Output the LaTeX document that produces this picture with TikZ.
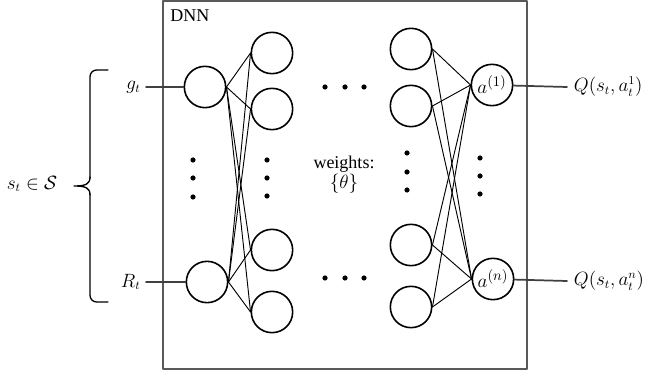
\documentclass[tikz,border=0pt]{standalone}
\usepackage{amssymb,amsmath}
\usepackage{fontspec}
\setmainfont{Liberation Serif}
\usepackage{tikz}

\begin{document}
\begin{tikzpicture}[x=0.75pt,y=-0.75pt, line cap=round,line join=round,
  neuron/.style={draw,circle,line width=1.2pt,minimum size=31pt,inner sep=0pt},
  wire/.style={line width=0.7pt},
  iowire/.style={line width=1.3pt,color=black!75},
  ellip/.style={fill=black},
  every node/.style={font=\fontsize{13.5}{16}\selectfont}]
\useasboundingbox (0,0) rectangle (670,373);
\draw [line width=1.3pt,color=black!65] (163,1) rectangle (527,369);
\node [anchor=north west,inner sep=0pt] (dnn) at (170,9) {DNN};
% input layer
\node [neuron] (g) at (205,87) {};
\node [neuron] (r) at (207,282) {};
% first hidden layer
\node [neuron] (h1) at (272,53) {};
\node [neuron] (h2) at (272,109) {};
\node [neuron] (h3) at (272,250) {};
\node [neuron] (h4) at (272,312) {};
% last hidden layer
\node [neuron] (k1) at (411,49) {};
\node [neuron] (k2) at (411,106) {};
\node [neuron] (k3) at (411,245) {};
\node [neuron] (k4) at (411,307) {};
% output layer
\node [neuron,font=\fontsize{15}{18}\selectfont] (o1) at (492,85) {$a^{(1)}$};
\node [neuron,font=\fontsize{15}{18}\selectfont] (on) at (493,279) {$a^{(n)}$};
\foreach \i in {g,r}
  \foreach \j in {h1,h2,h3,h4}
    \draw [wire] (\i.east) -- (\j.west);
\foreach \i in {k1,k2,k3,k4}
  \foreach \j in {o1,on}
    \draw [wire] (\i.east) -- (\j.west);
% dots
\foreach \x/\y in {193/160,193/178,193/197,267/160,267/178,267/196,
    407/153,407/172,407/190,480/158,480/176,480/194,
    325/87,345/87,364/87,325/278,345/278,364/278}
  \fill [ellip] (\x,\y) circle (2.6);
\node [align=center,inner sep=0pt] (w) at (344,175) {weights:\\[-1pt]$\{\theta\}$};
% inputs and outputs
\node [anchor=east,inner sep=4pt] (gl) at (146,87) {$g_t$};
\node [anchor=east,inner sep=4pt] (rl) at (146,282) {$R_t$};
\draw [iowire] (gl.east) -- (g);
\draw [iowire] (rl.east) -- (r);
\node [anchor=west,inner sep=5pt] (q1) at (567,87) {$Q(s_t,a_t^1)$};
\node [anchor=west,inner sep=5pt] (qn) at (567,281) {$Q(s_t,a_t^n)$};
\draw [iowire] (o1) -- (q1.west);
\draw [iowire] (on) -- (qn.west);
% state brace
\draw [line width=1pt,rounded corners=5pt] (108,70) -| (90,178);
\draw [line width=1pt] (90,177) .. controls (90,184) and (86,186) .. (74,186)
  .. controls (86,186) and (90,188) .. (90,195);
\draw [line width=1pt,rounded corners=5pt] (90,194) |- (108,302);
\node [anchor=east] (s) at (62,184) {$s_t\in\mathcal{S}$};
\end{tikzpicture}
\end{document}
